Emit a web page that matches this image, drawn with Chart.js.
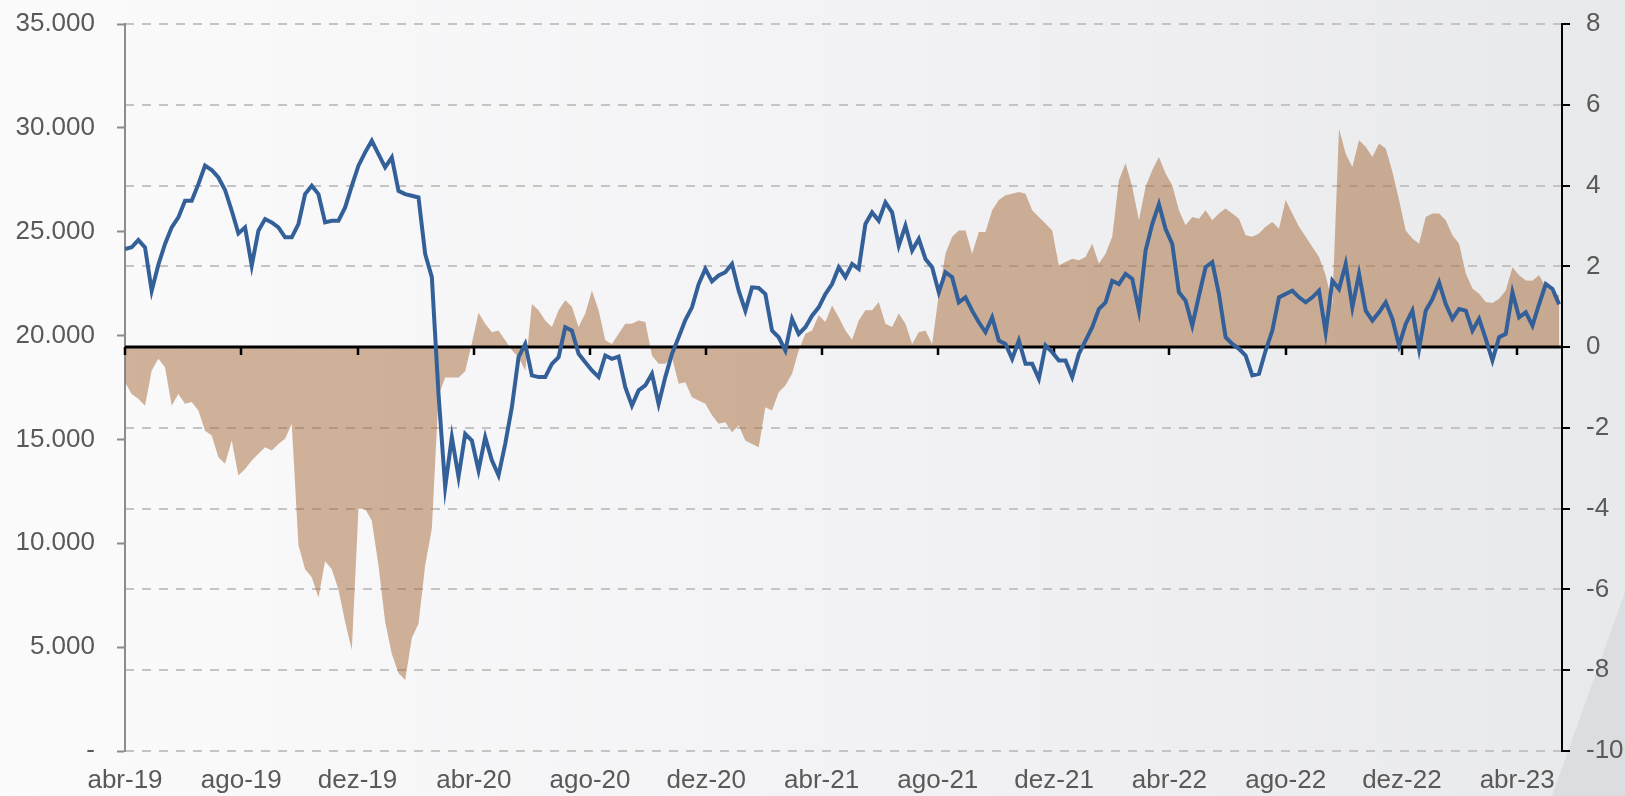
<!DOCTYPE html>
<html lang="pt">
<head>
<meta charset="utf-8">
<title>Grafico</title>
<script src="https://cdn.jsdelivr.net/npm/chart.js@4.4.1/dist/chart.umd.min.js"></script>
<style>
  html, body { margin: 0; padding: 0; }
  body {
    width: 1625px; height: 796px; overflow: hidden; position: relative;
    background: linear-gradient(to right, #fbfbfc 0%, #f4f4f6 45%, #e8e9eb 100%);
  }
  .corner {
    position: absolute; left: 0; top: 0; width: 1625px; height: 796px;
    background: #dcdde0;
    clip-path: polygon(1625px 592px, 1625px 796px, 1552px 796px);
  }
  .box { position: absolute; left: 0; top: 0; }
</style>
</head>
<body>
<div class="corner"></div>
<div class="box"><canvas id="chart" width="1625" height="796"></canvas></div>
<script>
// weekly points from 01/04/2019
const startDate = '2019-04-01';

// x axis labels (every 4 months)
const tickDates = ['2019-04-01', '2019-08-01', '2019-12-01', '2020-04-01', '2020-08-01', '2020-12-01',
  '2021-04-01', '2021-08-01', '2021-12-01', '2022-04-01', '2022-08-01', '2022-12-01', '2023-04-01'];
const tickLabels = ['abr-19', 'ago-19', 'dez-19', 'abr-20', 'ago-20', 'dez-20',
  'abr-21', 'ago-21', 'dez-21', 'abr-22', 'ago-22', 'dez-22', 'abr-23'];
const lastDay = 1508; // ~17/05/2023

const leftTicks = [0, 5000, 10000, 15000, 20000, 25000, 30000, 35000];

// blue line (left axis)
const indexLevel = [
  24170, 24250, 24600, 24250, 22160, 23410, 24410, 25210, 25690, 26490, 26490, 27290,
  28180, 27970, 27610, 27010, 26010, 24920, 25210, 23370, 25050, 25610, 25450, 25210,
  24730, 24730, 25370, 26810, 27210, 26810, 25450, 25530, 25530, 26170, 27210, 28180,
  28820, 29380, 28740, 28100, 28580, 26970, 26810, 26730, 26650, 23930, 22810, 17190,
  12710, 15110, 13190, 15270, 14950, 13510, 15110, 13990, 13270, 14790, 16550, 18960,
  19600, 18080, 18000, 18000, 18640, 18960, 20400, 20240, 19120, 18720, 18320, 18000,
  19040, 18880, 18990, 17520, 16630, 17360, 17600, 18160, 16710, 18000, 19120, 19920,
  20750, 21360, 22480, 23210, 22610, 22890, 23050, 23450, 22160, 21200, 22320, 22290,
  22000, 20240, 19920, 19280, 20800, 20080, 20400, 20960, 21360, 22000, 22480, 23290,
  22810, 23450, 23210, 25370, 25930, 25530, 26410, 25930, 24330, 25290, 24090, 24650,
  23690, 23290, 22080, 23050, 22810, 21600, 21840, 21200, 20640, 20160, 20880, 19760,
  19600, 18880, 19760, 18640, 18640, 17920, 19520, 19200, 18800, 18800, 18000, 19120,
  19760, 20400, 21280, 21600, 22640, 22480, 22970, 22730, 21200, 24090, 25370, 26330,
  25130, 24410, 22080, 21680, 20480, 21920, 23290, 23530, 22000, 19920, 19600, 19360,
  19040, 18080, 18160, 19280, 20240, 21840, 22000, 22160, 21840, 21600, 21840, 22160,
  20160, 22640, 22240, 23450, 21360, 22970, 21200, 20720, 21120, 21600, 20800, 19520,
  20560, 21200, 19360, 21200, 21760, 22560, 21520, 20800, 21280, 21200, 20240, 20800,
  19840, 18800, 19920, 20080, 22080, 20880, 21120, 20480, 21520, 22480, 22240, 21500
];

// brown area (right axis)
const spread = [
  -0.87, -1.16, -1.28, -1.45, -0.58, -0.29, -0.50, -1.45, -1.16, -1.40, -1.36, -1.57,
  -2.07, -2.19, -2.73, -2.89, -2.31, -3.18, -3.02, -2.81, -2.64, -2.48, -2.56, -2.40,
  -2.27, -1.90, -4.90, -5.50, -5.70, -6.20, -5.30, -5.50, -6.00, -6.80, -7.50, -4.00,
  -4.00, -4.30, -5.40, -6.80, -7.60, -8.07, -8.24, -7.20, -6.85, -5.40, -4.50, -1.20,
  -0.75, -0.75, -0.75, -0.60, 0.10, 0.85, 0.58, 0.37, 0.41, 0.17, -0.08, -0.25,
  -0.58, 1.07, 0.91, 0.66, 0.50, 0.91, 1.16, 1.00, 0.50, 0.83, 1.40, 0.91,
  0.17, 0.08, 0.33, 0.58, 0.58, 0.66, 0.62, -0.21, -0.41, -0.41, -0.25, -0.91,
  -0.87, -1.24, -1.32, -1.40, -1.69, -1.90, -1.86, -2.11, -1.94, -2.31, -2.40, -2.48,
  -1.49, -1.57, -1.12, -0.95, -0.66, -0.08, 0.33, 0.41, 0.79, 0.62, 1.03, 0.74,
  0.41, 0.18, 0.66, 0.91, 0.91, 1.12, 0.58, 0.50, 0.83, 0.58, 0.08, 0.37,
  0.41, 0.08, 1.30, 2.31, 2.73, 2.89, 2.89, 2.31, 2.85, 2.85, 3.39, 3.64,
  3.76, 3.80, 3.84, 3.80, 3.39, 3.22, 3.06, 2.89, 2.02, 2.11, 2.19, 2.15,
  2.23, 2.56, 2.07, 2.31, 2.73, 4.13, 4.55, 3.97, 3.14, 3.97, 4.38, 4.71,
  4.30, 4.01, 3.39, 3.02, 3.22, 3.18, 3.39, 3.14, 3.31, 3.43, 3.31, 3.18,
  2.77, 2.73, 2.81, 2.98, 3.10, 2.93, 3.64, 3.31, 2.98, 2.73, 2.48, 2.23,
  1.78, 1.07, 5.40, 4.79, 4.46, 5.12, 4.96, 4.71, 5.04, 4.92, 4.34, 3.64,
  2.89, 2.69, 2.56, 3.22, 3.31, 3.31, 3.14, 2.77, 2.56, 1.82, 1.45, 1.32,
  1.12, 1.09, 1.20, 1.40, 1.98, 1.78, 1.65, 1.64, 1.78, 1.49, 1.36, 1.28
];

const DAY = 86400000;
const tickDays = tickDates.map(d => Math.round((Date.parse(d) - Date.parse(startDate)) / DAY));
const weekDays = indexLevel.map((_, i) => i * 7);

function fmtThousands(v) {
  if (v === 0) return '-';
  return String(v).replace(/\B(?=(\d{3})+(?!\d))/g, '.');
}

// black zero line + x tick marks, drawn over the area but under the blue line
const zeroLine = {
  id: 'zeroLine',
  afterDatasetDraw(chart, args) {
    if (args.index !== 1) return;
    const { ctx, chartArea, scales } = chart;
    const y0 = scales.y2.getPixelForValue(0);
    ctx.save();
    ctx.strokeStyle = '#000';
    ctx.lineWidth = 3;
    ctx.beginPath();
    ctx.moveTo(chartArea.left, y0);
    ctx.lineTo(chartArea.right, y0);
    ctx.stroke();
    ctx.lineWidth = 2.5;
    ctx.beginPath();
    tickDays.forEach(d => {
      const x = Math.round(scales.x.getPixelForValue(d));
      ctx.moveTo(x, y0);
      ctx.lineTo(x, y0 + 8);
    });
    ctx.stroke();
    ctx.restore();
  }
};

// vertical axes: fixed width, no extra label padding above/below the plot
function fixWidth(w) {
  return s => { s.width = w; s.paddingTop = 0; s.paddingBottom = 0; };
}

Chart.defaults.font.family = "'Liberation Sans', Arial, sans-serif";
Chart.defaults.font.size = 26;
Chart.defaults.color = '#595959';

new Chart(document.getElementById('chart'), {
  type: 'line',
  data: {
    datasets: [
      {
        label: 'Índice',
        data: indexLevel.map((v, i) => ({ x: weekDays[i], y: v })),
        yAxisID: 'y',
        borderColor: '#34609a',
        borderWidth: 4,
        pointRadius: 0,
        tension: 0,
        fill: false
      },
      {
        label: 'Spread',
        data: spread.map((v, i) => ({ x: weekDays[i], y: v })),
        yAxisID: 'y2',
        borderColor: 'transparent',
        borderWidth: 0,
        backgroundColor: 'rgba(166, 104, 56, 0.5)',
        pointRadius: 0,
        tension: 0,
        fill: 'origin'
      }
    ]
  },
  options: {
    responsive: false,
    animation: false,
    layout: { padding: { top: 24, left: 0, right: 0, bottom: 0 } },
    plugins: { legend: { display: false }, tooltip: { enabled: false } },
    scales: {
      x: {
        type: 'linear', min: 0, max: lastDay,
        afterBuildTicks: s => { s.ticks = tickDays.map(v => ({ value: v })); },
        afterFit: s => { s.height = 45; },
        grid: { display: false, drawTicks: false },
        border: { display: false },
        ticks: {
          autoSkip: false, maxRotation: 0, padding: 14,
          callback: (v, i) => tickLabels[i]
        }
      },
      y: {
        position: 'left', min: 0, max: 35000,
        afterBuildTicks: s => { s.ticks = leftTicks.map(v => ({ value: v })); },
        afterFit: fixWidth(125),
        grid: { drawOnChartArea: false, tickLength: 8, tickColor: '#8c8c8c', tickWidth: 2 },
        border: { color: '#8c8c8c', width: 2 },
        ticks: { padding: 22, callback: v => fmtThousands(v) }
      },
      y2: {
        position: 'right', min: -10, max: 8,
        afterFit: fixWidth(63),
        grid: {
          color: c => (c.tick && c.tick.value === 0) ? 'rgba(0,0,0,0)' : '#c4c4c4',
          lineWidth: 2, tickLength: 8, tickColor: '#000', tickWidth: 2
        },
        border: { color: '#000', width: 2, dash: [9, 8] },
        ticks: { stepSize: 2, padding: 16 }
      }
    }
  },
  plugins: [zeroLine]
});
</script>
</body>
</html>
